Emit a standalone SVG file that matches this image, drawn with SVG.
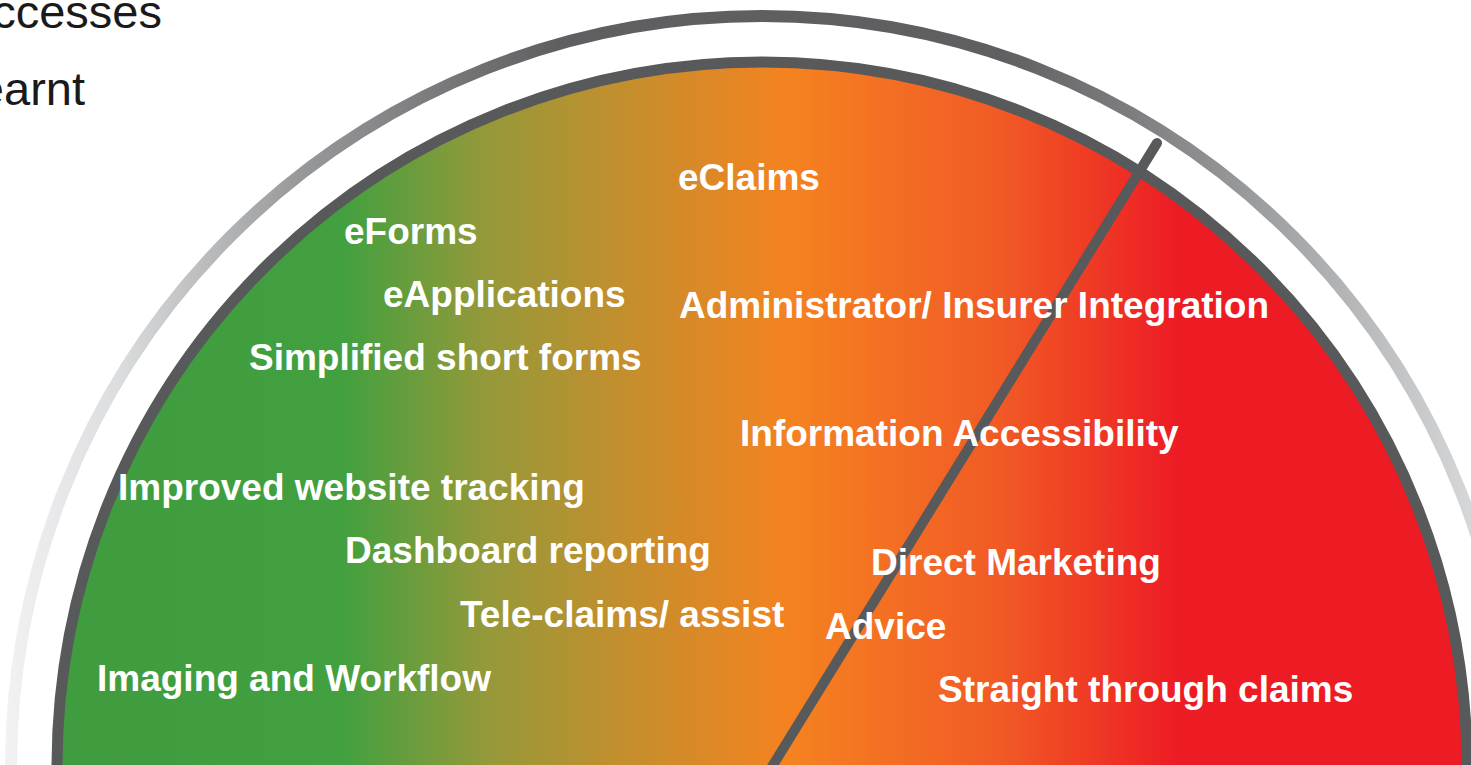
<svg xmlns="http://www.w3.org/2000/svg" width="1471" height="765" viewBox="0 0 1471 765">
  <defs>
    <!-- green to red sweep across the dial face -->
    <linearGradient id="faceGrad" gradientUnits="userSpaceOnUse" x1="0" y1="0" x2="1471" y2="0">
      <stop offset="0" stop-color="#3f9b3f"/>
      <stop offset="0.233" stop-color="#42a03f"/>
      <stop offset="0.33" stop-color="#94993a"/>
      <stop offset="0.42" stop-color="#c28f2e"/>
      <stop offset="0.537" stop-color="#f58220"/>
      <stop offset="0.68" stop-color="#f15a25"/>
      <stop offset="0.8" stop-color="#ed1c24"/>
      <stop offset="1" stop-color="#ed1c24"/>
    </linearGradient>
    <!-- outer rim: dark at the top, fading out toward the ends -->
    <linearGradient id="rimGrad" gradientUnits="userSpaceOnUse" x1="0" y1="0" x2="1471" y2="0">
      <stop offset="0" stop-color="#f3f3f4"/>
      <stop offset="0.08" stop-color="#dcdddf"/>
      <stop offset="0.2" stop-color="#999a9c"/>
      <stop offset="0.38" stop-color="#5f5f61"/>
      <stop offset="0.68" stop-color="#5f5f61"/>
      <stop offset="0.82" stop-color="#8e8f91"/>
      <stop offset="1" stop-color="#d6d7d9"/>
    </linearGradient>
  </defs>
  <style>
    .lbl { font-family: "Liberation Sans", Arial, sans-serif; font-weight: bold; font-size: 37px; fill: #ffffff; }
    .head { font-family: "Liberation Sans", Arial, sans-serif; font-size: 47px; fill: #1a1a1a; }
  </style>

  <rect x="0" y="0" width="1471" height="765" fill="#ffffff"/>

  <!-- heading lines running off the left edge -->
  <g id="heading">
    <text class="head" x="162" y="28" text-anchor="end">ccesses</text>
    <text class="head" x="85" y="105" text-anchor="end">earnt</text>
  </g>

  <!-- dial -->
  <g id="dial">
    <circle id="rim" cx="762" cy="767" r="751" fill="none" stroke="url(#rimGrad)" stroke-width="12"/>
    <circle id="face" cx="762" cy="767" r="705" fill="url(#faceGrad)" stroke="#58595b" stroke-width="11"/>
  </g>

  <!-- needle -->
  <g id="connectors">
    <line x1="1157" y1="143" x2="765" y2="778" stroke="#58595b" stroke-width="10" stroke-linecap="round"/>
  </g>

  <!-- labels -->
  <g id="labels">
    <g id="eclaims"><text class="lbl" x="678" y="190">eClaims</text></g>
    <g id="eforms"><text class="lbl" x="344" y="244">eForms</text></g>
    <g id="eapplications"><text class="lbl" x="383" y="307">eApplications</text></g>
    <g id="admin-integration"><text class="lbl" x="679" y="318">Administrator/ Insurer Integration</text></g>
    <g id="short-forms"><text class="lbl" x="249" y="370">Simplified short forms</text></g>
    <g id="info-access"><text class="lbl" x="740" y="446">Information Accessibility</text></g>
    <g id="web-tracking"><text class="lbl" x="118" y="500">Improved website tracking</text></g>
    <g id="dashboard"><text class="lbl" x="345" y="563">Dashboard reporting</text></g>
    <g id="direct-marketing"><text class="lbl" x="871" y="575">Direct Marketing</text></g>
    <g id="tele-claims"><text class="lbl" x="460" y="627">Tele-claims/ assist</text></g>
    <g id="advice"><text class="lbl" x="825" y="639">Advice</text></g>
    <g id="imaging"><text class="lbl" x="97" y="691">Imaging and Workflow</text></g>
    <g id="stp-claims"><text class="lbl" x="938" y="702">Straight through claims</text></g>
  </g>
</svg>
